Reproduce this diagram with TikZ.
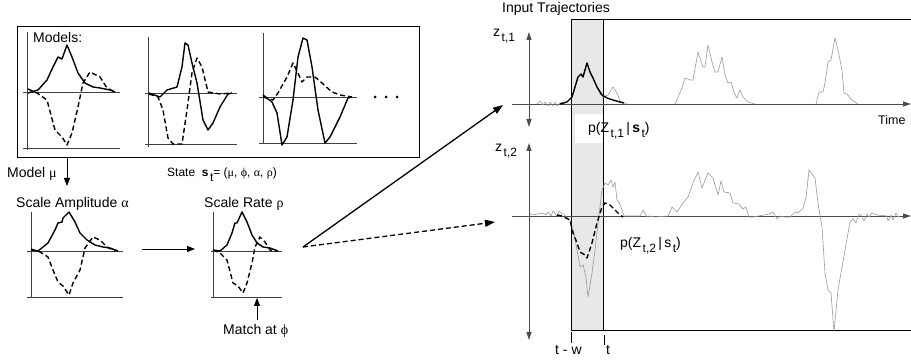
\documentclass[tikz,border=0pt]{standalone}
\usepackage{fontspec}
\setmainfont{Liberation Sans}
\newfontfamily\grk{Liberation Serif}
\usetikzlibrary{arrows.meta}

\newcommand{\tjsub}[1]{\hspace{1.5pt}\raisebox{-4.5pt}{\fontsize{12}{12}\selectfont #1}}

\begin{document}
\begin{tikzpicture}[x=1pt, y=-1pt,
  tjlbl/.style = {font=\fontsize{14}{16}\selectfont, inner sep=0pt, anchor=base west},
  tjsmall/.style = {font=\fontsize{12}{14}\selectfont, inner sep=0pt, anchor=base west},
  tjframe/.style = {line width=0.7pt, draw=black!75},
  tjsolid/.style = {line width=1.4pt, line join=round},
  tjdash/.style = {line width=1.4pt, line join=round, dash pattern=on 5pt off 3pt},
  tjgray/.style = {line width=0.6pt, draw=black!40, line join=round},
  tjarrow/.style = {line width=0.8pt, -{Triangle[length=8pt, width=6pt]}},
  tjbig/.style = {line width=1.3pt, -{Triangle[length=10pt, width=7pt]}},
  tjaxis/.style = {line width=0.8pt, draw=black!70, {Triangle[length=8pt, width=5pt]}-{Triangle[length=8pt, width=5pt]}},
  tjtime/.style = {line width=0.8pt, draw=black!70, -{Triangle[length=8pt, width=5pt]}}
]
  \useasboundingbox (0,0) rectangle (911,363);

  % models box
  \node[draw, line width=0.7pt, minimum width=402, minimum height=131, inner sep=0pt] (modelbox) at (218,91.5) {};
  \node[tjlbl] (models) at (33,42.5) {Models:};

  % model 1
  \draw[tjframe] (27,32) -- (27,150);
  \draw[tjframe] (23,92) -- (120,92);
  \draw[tjframe] (23,148) -- (120,148);
  \draw[tjsolid] plot coordinates {(28,93) (38,90) (47,80) (53,67) (58,57) (62,59) (67,45) (72,57) (78,73) (85,83) (93,87) (100,88) (110,90) (115,92)};
  \draw[tjdash] plot coordinates {(28,89) (37,93) (47,100) (55,130) (62,137) (67,145) (72,133) (78,107) (83,83) (90,72) (100,77) (107,88) (115,92)};

  % model 2
  \draw[tjframe] (148,37) -- (148,147);
  \draw[tjframe] (145,93) -- (237,93);
  \draw[tjframe] (145,144) -- (237,144);
  \draw[tjsolid] plot coordinates {(149,93) (160,97) (167,90) (177,87) (182,67) (185,43) (188,45) (192,63) (197,83) (203,120) (208,130) (213,123) (220,107) (228,94) (232,93)};
  \draw[tjdash] plot coordinates {(149,94) (158,97) (163,110) (168,138) (173,144) (182,144) (187,110) (192,73) (197,58) (202,67) (208,92) (220,94) (232,93)};

  % model 3
  \draw[tjframe] (263,33) -- (263,143);
  \draw[tjframe] (259,97) -- (357,97);
  \draw[tjframe] (259,143) -- (357,143);
  \draw[tjsolid] plot coordinates {(263,95) (272,102) (277,113) (282,145) (287,137) (293,100) (298,57) (303,38) (307,40) (312,67) (318,110) (325,143) (330,137) (340,117) (348,98) (352,97)};
  \draw[tjdash] plot coordinates {(263,97) (273,100) (278,93) (287,77) (293,63) (298,73) (302,82) (307,77) (315,77) (322,83) (332,92) (340,95) (352,97)};

  % more models
  \foreach \xd in {375,386,397}
    \fill (\xd,97) circle (1.5pt);

  \node[tjlbl] (modelmu) at (7,178) {Model {\grk μ}};
  \node[tjsmall] (state) at (167,177) {State\ \ \textbf{s}\tjsub{t}= ({\grk μ}, {\grk ϕ}, {\grk α}, {\grk ρ})};

  % scale amplitude
  \node[tjlbl] (amplbl) at (16,208) {Scale Amplitude {\grk α}};
  \coordinate (ampin) at (67,186);
  \draw[tjarrow] (modelbox.south -| ampin) -- (ampin);
  \draw[tjframe] (31,212) -- (31,298);
  \draw[tjframe] (27,251) -- (123,251);
  \draw[tjframe] (27,297) -- (123,297);
  \draw[tjsolid] plot coordinates {(31,250) (38,251) (48,243) (55,230) (58,223) (62,222) (63,218) (69,212) (75,222) (80,233) (87,240) (95,245) (103,247) (110,248) (118,251)};
  \draw[tjdash] plot coordinates {(31,249) (40,252) (48,257) (53,270) (58,282) (63,286) (69,295) (73,283) (80,270) (85,248) (93,237) (100,240) (107,247) (115,251)};

  \coordinate (ampout) at (142,249);
  \coordinate (ratein) at (195,249);
  \draw[tjarrow] (ampout) -- (ratein);

  % scale rate
  \node[tjlbl] (ratelbl) at (204,208) {Scale Rate {\grk ρ}};
  \draw[tjframe] (213,212) -- (213,298);
  \draw[tjframe] (211,251) -- (282,251);
  \draw[tjframe] (211,297) -- (282,297);
  \draw[tjsolid] plot coordinates {(213,250) (220,251) (227,245) (232,233) (235,223) (237,223) (242,212) (247,222) (252,235) (257,243) (263,247) (270,248) (278,251)};
  \draw[tjdash] plot coordinates {(213,250) (220,253) (227,260) (233,283) (238,286) (243,293) (247,283) (252,263) (255,247) (260,237) (265,242) (270,250) (278,251)};

  \node[tjlbl] (matchlbl) at (223,335) {Match at {\grk ϕ}};
  \coordinate (matchtail) at (257,320);
  \coordinate (matchtip) at (257,298);
  \draw[tjarrow] (matchtail) -- (matchtip);

  % to the trajectories
  \coordinate (rateout) at (303,247);
  \coordinate (traj1in) at (503,105);
  \coordinate (traj2in) at (495,222);
  \draw[tjbig] (rateout) -- (traj1in);
  \draw[tjbig, dash pattern=on 5pt off 3pt] (rateout) -- (traj2in);

  % input trajectories
  \node[tjlbl] (inlbl) at (502,13) {Input Trajectories};
  \fill[black!9] (571,20) rectangle (603,331);
  \node[fill=white, minimum width=88, minimum height=29, inner sep=0pt] (p1box) at (619,128.5) {};
  \node[tjlbl] (p1) at (588,133) {p(Z\tjsub{t,1}\,|\,\textbf{s}\tjsub{t})};
  \draw[line width=0.6pt] (571,20) -- (571,331);
  \draw[line width=1pt] (603,20) -- (603,331);
  \draw[line width=1pt] (571,20) -- (911,20);
  \draw[line width=1pt] (571,331) -- (911,331);

  % channel 1
  \draw[tjaxis] (529,32) -- (529,127);
  \draw[tjtime] (512,104) -- (911,104);
  \node[tjlbl] (z1) at (493,37) {z\tjsub{t,1}};
  \node[font=\fontsize{12.5}{14}\selectfont, inner sep=0pt, anchor=base west] (timelbl) at (878,124.5) {Time};
  \draw[tjgray] plot coordinates {(537,104) (540,101) (543,105) (545,102) (548,106) (550,102) (553,106) (555,102) (557,106) (560,103) (567,102) (572,97) (575,87) (578,77) (581,74) (583,77) (587,63) (590,72) (593,78) (597,87) (600,94) (603,97) (608,95) (613,87) (617,93) (620,101) (627,104)};
  \draw[tjgray] plot coordinates {(675,104) (682,88) (685,78) (690,80) (693,80) (698,52) (703,67) (705,67) (708,45) (712,62) (715,72) (718,72) (722,57) (725,75) (728,83) (731,82) (735,95) (737,98) (740,90) (743,97) (748,102) (755,104)};
  \draw[tjgray] plot coordinates {(816,104) (819,92) (823,92) (825,83) (828,62) (831,60) (835,38) (838,50) (842,70) (844,93) (847,94) (852,100) (858,104)};
  \draw[tjsolid] plot coordinates {(560,104) (567,102) (572,97) (575,87) (578,77) (581,74) (583,77) (587,63) (590,72) (593,78) (597,87) (602,95) (607,98) (613,100) (620,102) (624,103)};

  % channel 2
  \draw[tjaxis] (529,143) -- (529,340);
  \draw[tjtime] (512,216) -- (911,216);
  \node[tjlbl] (z2) at (495,152) {z\tjsub{t,2}};
  \node[tjlbl] (p2) at (620,248) {p(Z\tjsub{t,2}\,|\,s\tjsub{t})};
  \draw[tjgray] plot coordinates {(530,214) (533,215) (543,213) (546,215) (548,212) (551,216) (553,211) (557,216) (559,211) (563,214) (570,220) (574,233) (577,250) (580,267) (583,265) (586,277) (588,297) (592,273) (595,250) (598,223) (602,190) (605,183) (608,185) (611,180) (613,187) (615,182) (617,200) (619,202) (622,210) (624,216) (640,216) (643,210) (647,217) (649,216) (655,217) (668,216) (672,207) (677,212) (683,203) (688,197) (693,183) (698,172) (702,188) (708,173) (713,178) (718,195) (721,181) (724,192) (730,193) (733,203) (739,204) (743,209) (746,207) (749,217) (753,217) (769,214) (773,212) (777,219) (780,216) (784,217) (790,217) (795,212) (798,213) (803,208) (806,198) (809,170) (815,178) (818,203) (822,227) (825,273) (828,290) (831,293) (834,332) (838,290) (842,267) (845,250) (850,222) (853,219) (856,223) (859,214) (862,216) (864,221) (867,214) (869,217) (872,213) (877,215) (887,216) (888,221) (891,215) (893,220) (896,213) (898,217) (900,216)};
  \draw[tjdash] plot coordinates {(557,215) (562,216) (570,220) (573,233) (577,243) (580,252) (585,255) (587,258) (592,243) (597,223) (602,207) (605,203) (610,205) (615,210) (620,215) (623,217)};

  % window ticks
  \draw[line width=0.7pt] (571,332) -- (571,343);
  \draw[line width=0.7pt] (604,335) -- (604,345);
  \node[tjlbl] (twlbl) at (555,355) {t - w};
  \node[tjlbl] (tlbl) at (606,355) {t};
\end{tikzpicture}
\end{document}
